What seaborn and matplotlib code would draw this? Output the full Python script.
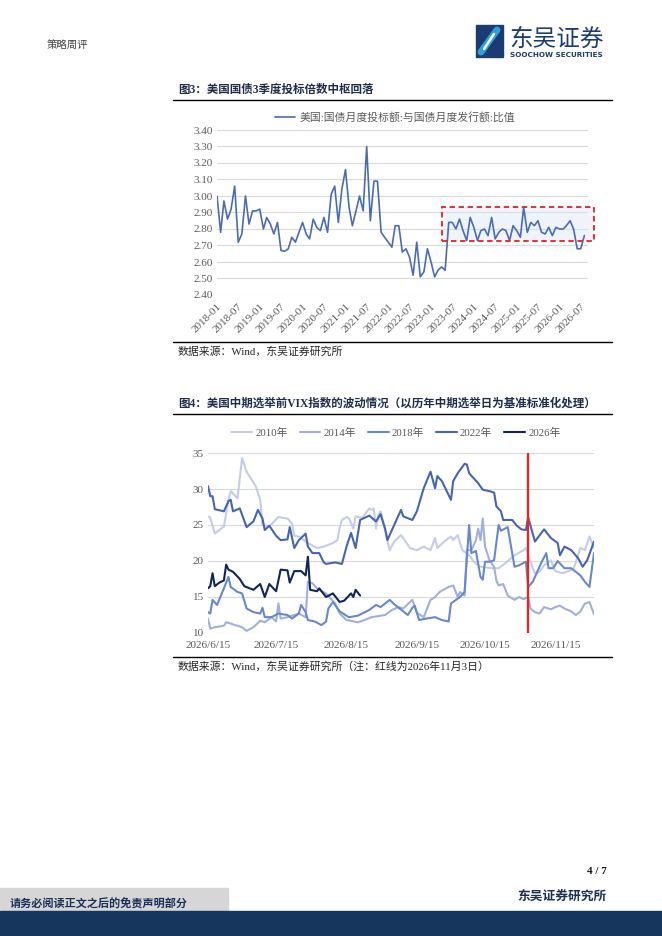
import pandas as pd
import numpy as np
import seaborn as sns
import matplotlib.pyplot as plt
import matplotlib.dates as mdates
from matplotlib.patches import Rectangle
from matplotlib.lines import Line2D

# ---- data: figure 3, monthly bid-to-cover ratio, 2018-01 .. 2026-08
ratio = [3.00, 2.78, 2.97, 2.86, 2.92, 3.06, 2.72, 2.77, 3.00, 2.83,
         2.91, 2.91, 2.92, 2.80, 2.87, 2.83, 2.77, 2.84, 2.67, 2.665,
         2.68, 2.75, 2.72, 2.78, 2.84, 2.77, 2.74, 2.86, 2.81, 2.79,
         2.87, 2.78, 3.01, 3.06, 2.84, 3.04, 3.16, 2.93, 2.82, 2.91,
         3.00, 2.91, 3.30, 2.85, 3.09, 3.09, 2.78, 2.75, 2.72, 2.69,
         2.82, 2.82, 2.66, 2.68, 2.63, 2.52, 2.72, 2.51, 2.54, 2.68,
         2.60, 2.51, 2.55, 2.57, 2.55, 2.84, 2.84, 2.80, 2.86, 2.79,
         2.73, 2.87, 2.81, 2.73, 2.79, 2.80, 2.76, 2.87, 2.74, 2.78,
         2.80, 2.79, 2.73, 2.82, 2.79, 2.75, 2.93, 2.78, 2.84, 2.82,
         2.85, 2.78, 2.77, 2.81, 2.76, 2.81, 2.80, 2.80, 2.82, 2.85,
         2.80, 2.68, 2.68, 2.76]
months = pd.date_range('2018-01-01', periods=len(ratio), freq='MS')
label1 = '美国:国债月度投标额:与国债月度发行额:比值'
# highlighted band
hl_start, hl_end = '2023-04-05', '2026-10-25'
hl_low, hl_high = 2.73, 2.935

# ---- data: figure 4, VIX aligned to election day (day offsets from 2026-06-15)
base_day = pd.Timestamp('2026-06-15')
red_day = pd.Timestamp('2026-11-03')

d2010 = [0, 1, 3, 7, 9, 10, 13, 15, 17, 21, 23, 24, 27, 31, 35, 37, 38, 40, 44, 48,
         51, 55, 57, 58, 59, 61, 62, 64, 65, 68, 71, 72, 73, 74, 75, 76, 80, 82, 85, 87,
         89, 92, 95, 98, 100, 101, 104, 107, 108, 110, 112, 115, 116, 117, 120, 125, 128, 131, 135, 139,
         140, 143, 144, 146, 148, 151, 153, 156, 158, 161, 164, 166, 168, 170]
v2010 = [26.2, 26.0, 23.8, 24.8, 28.5, 29.7, 28.7, 34.3, 32.4, 30.4, 28.5, 25.0, 24.8, 26.1, 25.9, 25.2, 23.5, 23.4, 22.5, 21.8,
         22.0, 22.5, 22.9, 24.7, 25.7, 26.1, 26.0, 24.5, 26.2, 26.0, 27.3, 27.1, 27.3, 24.5, 26.4, 26.9, 21.5, 22.7, 23.6, 22.7,
         21.8, 21.5, 22.0, 21.5, 23.2, 21.8, 22.7, 23.4, 22.9, 23.6, 21.5, 20.8, 20.4, 19.9, 19.2, 19.0, 19.0, 19.7, 20.8, 21.5,
         21.8, 19.0, 18.3, 18.5, 19.4, 20.1, 18.6, 18.3, 18.5, 18.9, 21.8, 21.5, 23.4, 21.8]

d2014 = [0, 1, 3, 7, 8, 10, 13, 15, 17, 20, 23, 25, 28, 30, 31, 32, 35, 38, 40, 43,
         44, 46, 48, 50, 52, 54, 56, 58, 61, 66, 69, 72, 78, 81, 84, 86, 90, 92, 95, 98,
         100, 102, 106, 108, 110, 111, 113, 114, 116, 118, 119, 120, 121, 122, 124, 126, 127, 128, 130, 132,
         135, 137, 139, 141, 142, 144, 146, 148, 151, 153, 155, 157, 160, 162, 164, 166, 168, 170]
v2014 = [12.0, 10.6, 10.8, 11.0, 11.5, 11.3, 11.0, 10.8, 10.3, 10.8, 11.7, 11.5, 12.2, 11.6, 14.1, 12.0, 12.2, 12.5, 12.7, 12.2,
         17.1, 16.9, 16.2, 15.8, 15.5, 14.8, 14.1, 12.7, 11.8, 11.5, 11.8, 12.2, 12.5, 13.2, 13.6, 13.4, 14.6, 12.8, 12.2, 14.6,
         15.0, 15.7, 16.4, 16.6, 15.0, 15.7, 15.2, 21.5, 21.5, 22.9, 24.5, 22.9, 25.9, 22.0, 20.1, 19.2, 17.3, 16.6, 16.8, 15.2,
         14.6, 15.0, 14.7, 15.0, 13.4, 12.9, 12.7, 13.6, 13.3, 13.6, 13.8, 13.4, 13.0, 12.5, 13.0, 14.1, 14.3, 12.6]

d2018 = [0, 1, 2, 4, 7, 9, 10, 13, 15, 17, 20, 23, 24, 25, 28, 31, 35, 37, 40, 41,
         43, 44, 47, 50, 52, 53, 55, 58, 62, 66, 71, 74, 76, 80, 82, 84, 86, 88, 90, 91,
         93, 96, 100, 103, 106, 107, 111, 113, 115, 116, 118, 120, 121, 122, 124, 126, 128, 129, 132, 135,
         137, 140, 141, 143, 145, 147, 149, 150, 152, 154, 157, 160, 162, 164, 166, 168, 170]
v2018 = [12.9, 12.7, 14.6, 13.9, 16.2, 17.8, 16.4, 15.7, 15.5, 13.4, 12.9, 12.7, 13.5, 12.2, 12.2, 12.7, 12.5, 12.0, 12.7, 13.9,
         12.9, 11.8, 11.6, 11.1, 11.6, 13.4, 14.3, 13.0, 12.2, 12.4, 13.2, 13.9, 13.6, 14.6, 14.0, 13.5, 13.0, 12.5, 13.5, 13.8,
         11.8, 12.0, 12.2, 11.8, 11.6, 14.1, 15.0, 15.7, 25.0, 21.1, 21.4, 17.8, 17.4, 19.9, 19.9, 20.1, 25.0, 24.2, 24.7, 19.2,
         19.4, 19.9, 16.4, 17.1, 18.5, 19.9, 21.1, 19.0, 19.0, 20.0, 19.0, 19.0, 18.5, 18.0, 17.1, 16.4, 21.1]

d2022 = [0, 1, 2, 3, 7, 9, 10, 11, 14, 17, 20, 22, 24, 25, 27, 30, 32, 35, 36, 38,
         40, 43, 44, 46, 49, 51, 52, 56, 59, 61, 63, 65, 67, 71, 74, 76, 78, 79, 82, 85,
         86, 90, 92, 95, 98, 100, 101, 103, 107, 108, 110, 113, 114, 115, 117, 119, 121, 124, 126, 127,
         129, 130, 134, 136, 138, 140, 141, 143, 144, 148, 151, 154, 155, 157, 160, 163, 165, 167, 170]
v2022 = [30.4, 29.0, 29.0, 27.2, 26.9, 28.3, 28.5, 26.9, 27.3, 24.7, 25.5, 27.1, 25.9, 24.3, 24.9, 23.5, 22.9, 23.0, 24.7, 21.8,
         22.9, 23.8, 22.0, 21.1, 21.1, 19.8, 19.6, 19.8, 19.6, 22.0, 23.9, 21.8, 25.7, 26.3, 25.5, 26.5, 24.5, 22.9, 25.0, 27.1,
         26.2, 25.7, 26.9, 30.1, 32.4, 30.1, 31.8, 31.1, 28.5, 31.1, 32.2, 33.5, 33.4, 32.2, 31.5, 30.8, 29.9, 29.7, 29.5, 27.6,
         26.9, 25.7, 25.7, 24.9, 24.4, 24.3, 26.1, 23.8, 22.7, 24.4, 23.2, 22.5, 20.8, 22.0, 21.5, 20.4, 19.2, 20.1, 22.7]

d2026 = [0, 1, 2, 3, 5, 7, 8, 9, 11, 14, 16, 20, 23, 25, 27, 30, 32, 35, 36, 38,
         41, 43, 44, 45, 48, 49, 52, 55, 58, 60, 63, 64, 65, 67]
v2026 = [16.2, 16.5, 18.3, 16.5, 17.0, 17.3, 19.5, 18.8, 18.5, 17.5, 16.5, 16.0, 16.8, 15.0, 16.8, 15.8, 18.8, 18.7, 17.0, 18.6,
         18.6, 18.0, 20.6, 16.0, 15.8, 16.2, 15.0, 15.5, 14.3, 14.5, 15.5, 15.0, 16.0, 15.2]

years = ['2010年', '2014年', '2018年', '2022年', '2026年']
colors = ['#c4cde7', '#9fb0dc', '#6888cc', '#4466b2', '#0f2658']

frames = []
for name, dd, vv in zip(years, [d2010, d2014, d2018, d2022, d2026],
                        [v2010, v2014, v2018, v2022, v2026]):
    frames.append(pd.DataFrame({'date': base_day + pd.to_timedelta(dd, unit='D'),
                                'vix': vv, 'series': name}))
vix = pd.concat(frames, ignore_index=True)

# ---- style
sns.set_theme(style='white')
plt.rcParams['font.family'] = ['Liberation Serif', 'Noto Sans CJK SC', 'DejaVu Sans']
plt.rcParams['axes.unicode_minus'] = False

W, H = 662, 936
fig = plt.figure(figsize=(W / 100, H / 100), dpi=100)


def fx(x):
    return x / W


def fy(y):
    return 1 - y / H


def hline(y, x0=173, x1=612, lw=1.0, color='black'):
    fig.add_artist(Line2D([fx(x0), fx(x1)], [fy(y), fy(y)], color=color, lw=lw))


tick_grey = '#595959'
grid_grey = '#d9d9d9'

# ---- page header
fig.text(fx(47), fy(45), '策略周评', fontsize=7.5, color='#404040', va='center',
         family=['Noto Sans CJK SC'])
fig.add_artist(Rectangle((fx(476), fy(57)), fx(27), 32 / H, color='#1b3c73'))
fig.add_artist(Line2D([fx(481), fx(497)], [fy(52), fy(30)], color='#2f9fd8', lw=5,
                      solid_capstyle='round'))
fig.add_artist(Line2D([fx(484), fx(494)], [fy(49), fy(34)], color='white', lw=1.8,
                      solid_capstyle='round'))
fig.text(fx(509), fy(39), '东吴证券', fontsize=17, color='#1b3c73', va='center',
         family=['Noto Sans CJK SC'])
fig.text(fx(510), fy(55), 'SOOCHOW SECURITIES', fontsize=5.2, color='#1b3c73',
         va='center', weight='bold', family=['DejaVu Sans'])

# ---- figure 3
fig.text(fx(178), fy(90), '图3：美国国债3季度投标倍数中枢回落', fontsize=8.3,
         weight='bold', color='#1f2d4d', va='center')
hline(100)
hline(342)
fig.text(fx(178), fy(352), '数据来源：Wind，东吴证券研究所', fontsize=7.8,
         color='#262626', va='center')

ax1 = fig.add_axes([fx(217), fy(295), (588 - 217) / W, (295 - 130) / H])
sns.lineplot(x=months, y=ratio, ax=ax1, color='#4a6cb3', lw=1.2, label=label1)
x0 = mdates.date2num(pd.Timestamp(hl_start))
x1 = mdates.date2num(pd.Timestamp(hl_end))
ax1.add_patch(Rectangle((x0, hl_low), x1 - x0, hl_high - hl_low, facecolor='#dde8f5',
                        alpha=0.45, edgecolor='none', clip_on=False, zorder=1))
ax1.add_patch(Rectangle((x0, hl_low), x1 - x0, hl_high - hl_low, facecolor='none',
                        edgecolor='#e3202c', lw=1.3, ls=(0, (3, 2)), clip_on=False, zorder=4))
ax1.set_ylim(2.40, 3.40)
ax1.set_yticks(np.arange(2.40, 3.401, 0.10))
ax1.yaxis.set_major_formatter(plt.FuncFormatter(lambda v, p: f'{v:.2f}'))
ax1.set_xlim(pd.Timestamp('2018-01-01'), pd.Timestamp('2026-09-01'))
ax1.xaxis.set_major_locator(mdates.MonthLocator(bymonth=[1, 7]))
ax1.xaxis.set_major_formatter(mdates.DateFormatter('%Y-%m'))
for lab in ax1.get_xticklabels():
    lab.set_rotation(45)
    lab.set_ha('right')
    lab.set_rotation_mode('anchor')
ax1.tick_params(axis='both', labelsize=8, colors=tick_grey, length=0, pad=3)
ax1.tick_params(axis='x', pad=5)
ax1.grid(axis='y', color=grid_grey, lw=0.8)
ax1.set_xlabel('')
ax1.set_ylabel('')
for s in ax1.spines.values():
    s.set_visible(False)
ax1.legend(loc='center', bbox_to_anchor=(0.48, 1.075), frameon=False, fontsize=7.8,
           handlelength=1.9, handletextpad=0.4, labelcolor=tick_grey)

# ---- figure 4
fig.text(fx(178), fy(404),
         '图4：美国中期选举前VIX指数的波动情况（以历年中期选举日为基准标准化处理）',
         fontsize=8.3, weight='bold', color='#1f2d4d', va='center')
hline(414)
hline(657)
fig.text(fx(178), fy(667), '数据来源：Wind，东吴证券研究所（注：红线为2026年11月3日）',
         fontsize=7.8, color='#262626', va='center')

ax2 = fig.add_axes([fx(208), fy(633), (594 - 208) / W, (633 - 453) / H])
sns.lineplot(data=vix, x='date', y='vix', hue='series', palette=dict(zip(years, colors)),
             estimator=None, sort=False, lw=1.5, ax=ax2, legend=False)
ax2.axvline(red_day, color='#ff1a1a', lw=1.6, zorder=5)
ax2.set_ylim(10, 35)
ax2.set_yticks([10, 15, 20, 25, 30, 35])
ax2.set_xlim(base_day, base_day + pd.Timedelta(days=170))
xt = [base_day + pd.DateOffset(months=k) for k in range(6)]
ax2.set_xticks(xt)
ax2.set_xticklabels([f'{d.year}/{d.month}/{d.day}' for d in xt])
ax2.tick_params(axis='both', labelsize=8, colors=tick_grey, pad=3)
ax2.tick_params(axis='y', length=0)
ax2.tick_params(axis='x', length=3, width=0.6, color=grid_grey, direction='out')
ax2.grid(axis='y', color=grid_grey, lw=0.8)
ax2.set_xlabel('')
ax2.set_ylabel('')
for s in ax2.spines.values():
    s.set_visible(False)
handles = [Line2D([], [], color=c, lw=1.5) for c in colors]
ax2.legend(handles, years, loc='center', bbox_to_anchor=(0.487, 1.11), ncol=5,
           frameon=False, fontsize=7.8, handlelength=1.9, columnspacing=1.1,
           handletextpad=0.3, labelcolor=tick_grey)

# ---- page footer
fig.text(fx(607), fy(871), '4 / 7', fontsize=8, weight='bold', ha='right', va='center',
         color='#1a1a1a')
fig.text(fx(607), fy(897), '东吴证券研究所', fontsize=9.2, ha='right', va='center',
         color='#1a2f57', weight='bold')
fig.add_artist(Rectangle((0, fy(912)), fx(228), 24 / H, color='#d6d6d6'))
fig.text(fx(10), fy(904), '请务必阅读正文之后的免责声明部分', fontsize=8, va='center',
         color='#1a2f57', weight='bold')
fig.add_artist(Rectangle((0, 0), 1, 25 / H, color='#17365d'))

fig.savefig('out.png', dpi=100)
